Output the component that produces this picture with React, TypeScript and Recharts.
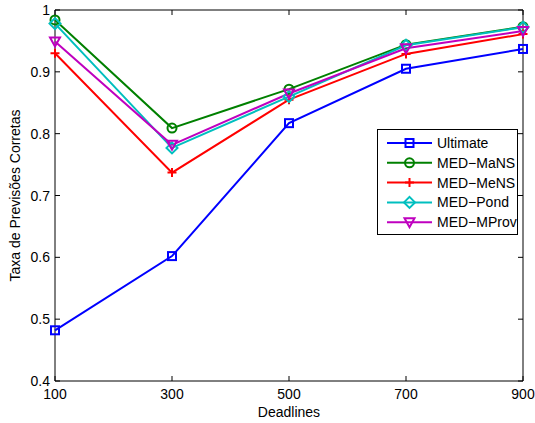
import { LineChart, Line, XAxis, YAxis, ReferenceArea } from "recharts";

const deadlines = [100, 300, 500, 700, 900];
const ultimate = [0.482, 0.602, 0.817, 0.905, 0.937];
const medMaNS = [0.984, 0.809, 0.872, 0.944, 0.973];
const medMeNS = [0.93, 0.737, 0.855, 0.929, 0.961];
const medPond = [0.978, 0.777, 0.86, 0.943, 0.972];
const medMProv = [0.949, 0.782, 0.865, 0.938, 0.966];
const xTicks = [100, 300, 500, 700, 900];
const yTicks = [0.4, 0.5, 0.6, 0.7, 0.8, 0.9, 1];

const FONT = "'Liberation Sans', Arial, Helvetica, sans-serif";
const FS = 14;
// plot edges (follow from chart size + margins below)
const LEFT = 55;
const RIGHT = 523;
const TOP = 10;
const BOTTOM = 381;
const TICK = 5;

type Shape = "square" | "circle" | "plus" | "diamond" | "triangle";

const series: { key: string; name: string; color: string; shape: Shape }[] = [
  { key: "ultimate", name: "Ultimate", color: "#0000ff", shape: "square" },
  { key: "mans", name: "MED\u2212MaNS", color: "#008000", shape: "circle" },
  { key: "mens", name: "MED\u2212MeNS", color: "#ff0000", shape: "plus" },
  { key: "pond", name: "MED\u2212Pond", color: "#00bfbf", shape: "diamond" },
  { key: "mprov", name: "MED\u2212MProv", color: "#bf00bf", shape: "triangle" },
];

const data = deadlines.map((d, i) => ({
  deadline: d,
  ultimate: ultimate[i],
  mans: medMaNS[i],
  mens: medMeNS[i],
  pond: medPond[i],
  mprov: medMProv[i],
}));

function Marker({ shape, cx, cy, color }: { shape: Shape; cx: number; cy: number; color: string }) {
  const p = { fill: "none", stroke: color, strokeWidth: 2 };
  switch (shape) {
    case "square":
      return <rect x={cx - 4} y={cy - 4} width={8} height={8} {...p} />;
    case "circle":
      return <circle cx={cx} cy={cy} r={4.5} {...p} />;
    case "plus":
      return <path d={`M${cx - 4.5},${cy}H${cx + 4.5}M${cx},${cy - 4.5}V${cy + 4.5}`} {...p} />;
    case "diamond":
      return <path d={`M${cx},${cy - 5.5}L${cx + 5.5},${cy}L${cx},${cy + 5.5}L${cx - 5.5},${cy}Z`} {...p} />;
    default:
      return <path d={`M${cx - 5},${cy - 4}L${cx + 5},${cy - 4}L${cx},${cy + 5}Z`} {...p} />;
  }
}

function XTick(props: any) {
  const { x, payload } = props;
  return (
    <g>
      <line x1={x} x2={x} y1={BOTTOM} y2={BOTTOM - TICK} stroke="#000" />
      <line x1={x} x2={x} y1={TOP} y2={TOP + TICK} stroke="#000" />
      <text x={x} y={399} textAnchor="middle" fontSize={FS} fontFamily={FONT} fill="#000">
        {payload.value}
      </text>
    </g>
  );
}

function YTick(props: any) {
  const { y, payload } = props;
  return (
    <g>
      <line x1={LEFT} x2={LEFT + TICK} y1={y} y2={y} stroke="#000" />
      <line x1={RIGHT} x2={RIGHT - TICK} y1={y} y2={y} stroke="#000" />
      <text x={50} y={y + 5} textAnchor="end" fontSize={FS} fontFamily={FONT} fill="#000">
        {String(payload.value)}
      </text>
    </g>
  );
}

function LegendBox() {
  return (
    <div
      style={{
        position: "absolute",
        left: 377,
        top: 129,
        width: 141,
        height: 106,
        border: "1px solid #000",
        background: "#fff",
        boxSizing: "border-box",
      }}
    >
      <svg width={139} height={104} style={{ display: "block" }}>
        {series.map((s, i) => {
          const y = 13 + i * 19.8;
          return (
            <g key={s.key}>
              <line x1={9} x2={54} y1={y} y2={y} stroke={s.color} strokeWidth={2} />
              <Marker shape={s.shape} cx={31.5} cy={y} color={s.color} />
              <text x={59} y={y + 5} fontSize={FS} fontFamily={FONT} fill="#000">
                {s.name}
              </text>
            </g>
          );
        })}
      </svg>
    </div>
  );
}

export default function App() {
  return (
    <div style={{ position: "absolute", left: 0, top: 0, width: 535, height: 423, background: "#fff" }}>
      <LineChart width={535} height={423} data={data} margin={{ top: 10, right: 12, bottom: 0, left: 0 }}>
        <XAxis
          dataKey="deadline"
          type="number"
          domain={[100, 900]}
          ticks={xTicks}
          height={42}
          tickLine={false}
          axisLine={false}
          tick={<XTick />}
          label={{ value: "Deadlines", position: "insideBottom", offset: 6, fontSize: FS, fontFamily: FONT, fill: "#000" }}
        />
        <YAxis
          type="number"
          domain={[0.4, 1]}
          ticks={yTicks}
          width={55}
          tickLine={false}
          axisLine={false}
          tick={<YTick />}
          label={{
            value: "Taxa de Previsões Corretas",
            angle: -90,
            position: "insideLeft",
            offset: 15,
            style: { textAnchor: "middle" },
            fontSize: FS,
            fontFamily: FONT,
            fill: "#000",
          }}
        />
        <ReferenceArea x1={100} x2={900} y1={0.4} y2={1} fill="none" stroke="#000" strokeWidth={1} ifOverflow="visible" />
        {series.map((s) => (
          <Line
            key={s.key}
            dataKey={s.key}
            name={s.name}
            stroke={s.color}
            strokeWidth={2}
            isAnimationActive={false}
            dot={(p: any) => <Marker key={`${s.key}-${p.index}`} shape={s.shape} cx={p.cx} cy={p.cy} color={s.color} />}
            activeDot={false}
          />
        ))}
      </LineChart>
      <LegendBox />
    </div>
  );
}
